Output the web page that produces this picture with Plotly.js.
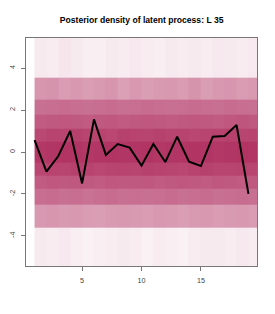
<!DOCTYPE html>
<html>
<head>
<meta charset="utf-8">
<script src="https://cdn.plot.ly/plotly-3.0.1.min.js"></script>
<style>html,body{margin:0;padding:0;background:#fff;}#chart{width:275px;height:314px;}</style>
</head>
<body>
<div id="chart"></div>
<script>
// time index of the latent process
var timeIndex = [1,2,3,4,5,6,7,8,9,10,11,12,13,14,15,16,17,18,19];
// column edges for the density image
var columnEdges = [1,2,3,4,5,6,7,8,9,10,11,12,13,14,15,16,17,18,19,20];
// band edges (quantile boundaries) of the posterior density
var bandEdges = [-5.6,-3.6,-2.5,-1.77,-1.13,-0.52,0.49,1.13,1.77,2.51,3.57,5.6];
// posterior mean / latent values per time point
var latent = [0.57,-0.94,-0.19,1.0,-1.5,1.56,-0.14,0.38,0.21,-0.65,0.38,-0.48,0.73,-0.46,-0.67,0.73,0.76,1.29,-2.0];
// density intensity per band (bottom to top), one value per column
var band1 = [0.10,0.09,0.11,0.08,0.07,0.08,0.09,0.10,0.09,0.07,0.09,0.08,0.07,0.09,0.10,0.10,0.09,0.11,0.09];
var band2 = [0.50,0.51,0.49,0.50,0.48,0.47,0.49,0.50,0.49,0.48,0.50,0.49,0.47,0.49,0.50,0.48,0.49,0.50,0.48];
var band3 = [0.70,0.71,0.69,0.70,0.68,0.70,0.71,0.69,0.70,0.69,0.70,0.71,0.69,0.70,0.71,0.69,0.70,0.71,0.69];
var band4 = [0.79,0.81,0.80,0.81,0.80,0.79,0.81,0.80,0.80,0.81,0.79,0.80,0.81,0.80,0.79,0.81,0.80,0.79,0.81];
var band5 = [0.89,0.91,0.90,0.92,0.91,0.89,0.90,0.91,0.90,0.92,0.91,0.90,0.89,0.91,0.92,0.90,0.90,0.91,0.90];
var band6 = [0.96,0.97,0.98,0.97,0.96,0.97,0.98,0.97,0.97,0.98,0.96,0.97,0.97,0.98,0.97,0.96,0.97,0.98,0.97];
var band7 = [0.88,0.91,0.90,0.92,0.90,0.91,0.89,0.92,0.91,0.90,0.92,0.90,0.91,0.89,0.90,0.91,0.92,0.90,0.91];
var band8 = [0.79,0.80,0.81,0.80,0.79,0.80,0.81,0.79,0.80,0.81,0.80,0.79,0.80,0.81,0.80,0.79,0.81,0.82,0.80];
var band9 = [0.69,0.70,0.71,0.70,0.69,0.70,0.71,0.69,0.70,0.71,0.70,0.69,0.70,0.71,0.70,0.69,0.71,0.70,0.69];
var band10 = [0.51,0.52,0.48,0.50,0.47,0.49,0.51,0.46,0.50,0.47,0.49,0.50,0.48,0.52,0.47,0.50,0.51,0.48,0.50];
var band11 = [0.10,0.09,0.12,0.10,0.08,0.08,0.10,0.09,0.11,0.09,0.08,0.10,0.09,0.10,0.09,0.11,0.10,0.09,0.11];
var xTicks = [5,10,15];
var yTicks = [-4,-2,0,2,4];

var z = [band1,band2,band3,band4,band5,band6,band7,band8,band9,band10,band11];

var traces = [
  {
    type: 'heatmap',
    x: columnEdges,
    y: bandEdges,
    z: z,
    zmin: 0, zmax: 1,
    colorscale: [[0,'#ffffff'],[1,'#b03060']],
    showscale: false,
    hoverinfo: 'skip'
  },
  {
    type: 'scatter',
    mode: 'lines',
    x: timeIndex,
    y: latent,
    line: {color: '#000000', width: 2},
    hoverinfo: 'skip'
  }
];

var axisFont = {family: 'Liberation Sans, Arial, sans-serif', size: 7.2, color: '#444'};
var layout = {
  width: 275, height: 314,
  margin: {l: 26, r: 18, t: 38, b: 48, pad: 0},
  paper_bgcolor: '#fff', plot_bgcolor: '#fff',
  showlegend: false,
  title: {
    text: '<b>Posterior density of latent process: L 35</b>',
    font: {family: 'Liberation Sans, Arial, sans-serif', size: 8.6, color: '#000'},
    x: 0.515, xanchor: 'center', y: 0.935, yanchor: 'middle'
  },
  xaxis: {
    range: [0.28, 19.72],
    tickmode: 'array', tickvals: xTicks, ticktext: xTicks.map(String),
    ticks: 'outside', ticklen: 4, tickcolor: '#777', tickwidth: 1,
    ticklabelstandoff: 3,
    showline: true, mirror: true, linecolor: '#777', linewidth: 1,
    showgrid: false, zeroline: false,
    tickfont: axisFont
  },
  yaxis: {
    range: [-5.44, 5.44],
    tickmode: 'array', tickvals: yTicks, ticktext: yTicks.map(String),
    ticks: 'outside', ticklen: 4, tickcolor: '#777', tickwidth: 1,
    tickangle: -90,
    ticklabelstandoff: 3,
    showline: true, mirror: true, linecolor: '#777', linewidth: 1,
    showgrid: false, zeroline: false,
    tickfont: axisFont
  }
};

Plotly.newPlot('chart', traces, layout, {displayModeBar: false, staticPlot: true});
</script>
</body>
</html>
